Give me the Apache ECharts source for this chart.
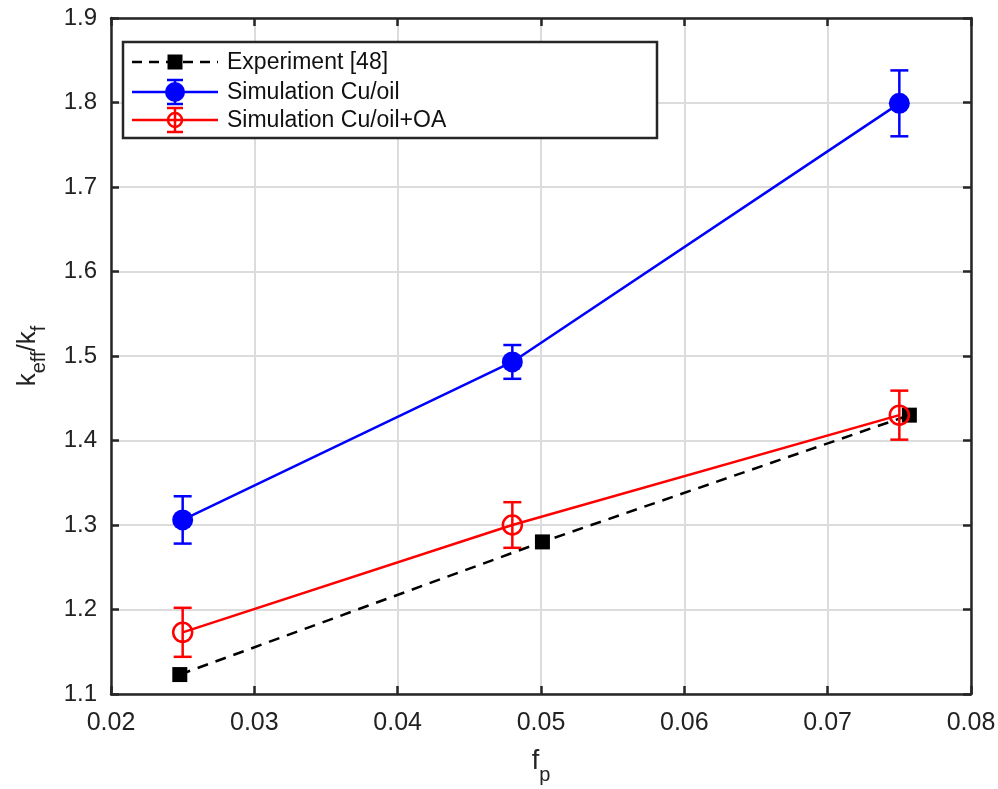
<!DOCTYPE html>
<html>
<head>
<meta charset="utf-8">
<script src="https://cdn.jsdelivr.net/npm/echarts@6/dist/echarts.min.js"></script>
<style>
  html, body { margin: 0; padding: 0; background: #fff; }
  #chart { width: 998px; height: 789px; }
</style>
</head>
<body>
<div id="chart"></div>
<script>
// Volume fraction of particles and effective conductivity ratio
const xTicks = [0.02, 0.03, 0.04, 0.05, 0.06, 0.07, 0.08];
const yTicks = [1.1, 1.2, 1.3, 1.4, 1.5, 1.6, 1.7, 1.8, 1.9];

const expX = [0.0248, 0.0501, 0.0757];
const expY = [1.123, 1.280, 1.430];

const simX = [0.025, 0.048, 0.075];
const cuY = [1.306, 1.493, 1.799];
const cuErr = [0.028, 0.020, 0.039];
const oaY = [1.173, 1.300, 1.430];
const oaErr = [0.029, 0.027, 0.029];

const legendNames = ['Experiment [48]', 'Simulation Cu/oil', 'Simulation Cu/oil+OA'];

const BLUE = '#0000ff';
const RED = '#ff0000';
const FONT = 'Liberation Sans, Arial, Helvetica, sans-serif';

const chart = echarts.init(document.getElementById('chart'), null, { renderer: 'canvas' });

function pairs(xs, ys) { return xs.map((x, i) => [x, ys[i]]); }
function errData(xs, ys, es) { return xs.map((x, i) => [x, ys[i] - es[i], ys[i] + es[i]]); }

function errorBarRenderer(color) {
  return function (params, api) {
    const x = api.value(0);
    const lo = api.coord([x, api.value(1)]);
    const hi = api.coord([x, api.value(2)]);
    const half = 9;
    const style = { stroke: color, lineWidth: 2.5, fill: null };
    return {
      type: 'group',
      children: [
        { type: 'line', shape: { x1: lo[0], y1: lo[1], x2: hi[0], y2: hi[1] }, style },
        { type: 'line', shape: { x1: lo[0] - half, y1: lo[1], x2: lo[0] + half, y2: lo[1] }, style },
        { type: 'line', shape: { x1: hi[0] - half, y1: hi[1], x2: hi[0] + half, y2: hi[1] }, style }
      ]
    };
  };
}

// Legend box drawn as graphic elements
const LX = 123, LY = 42, LW = 534, LH = 96;
const rowY = [62, 92, 120];
const sampleX1 = 132, sampleX2 = 218, markX = 175, textX = 227;
const legendGraphics = [
  { type: 'rect', shape: { x: LX, y: LY, width: LW, height: LH },
    style: { fill: '#fff', stroke: '#262626', lineWidth: 2.5 }, z: 100 },
  // experiment sample: dashed line + square
  { type: 'line', shape: { x1: sampleX1, y1: rowY[0], x2: sampleX2, y2: rowY[0] },
    style: { stroke: '#000', lineWidth: 2.5, lineDash: [10, 7] }, z: 101 },
  { type: 'rect', shape: { x: markX - 7.5, y: rowY[0] - 7.5, width: 15, height: 15 },
    style: { fill: '#000' }, z: 102 },
  // Cu/oil sample
  { type: 'line', shape: { x1: sampleX1, y1: rowY[1], x2: sampleX2, y2: rowY[1] },
    style: { stroke: BLUE, lineWidth: 2.5 }, z: 101 },
  { type: 'line', shape: { x1: markX, y1: rowY[1] - 12, x2: markX, y2: rowY[1] + 12 },
    style: { stroke: BLUE, lineWidth: 2.5 }, z: 101 },
  { type: 'line', shape: { x1: markX - 8, y1: rowY[1] - 12, x2: markX + 8, y2: rowY[1] - 12 },
    style: { stroke: BLUE, lineWidth: 2.5 }, z: 101 },
  { type: 'line', shape: { x1: markX - 8, y1: rowY[1] + 12, x2: markX + 8, y2: rowY[1] + 12 },
    style: { stroke: BLUE, lineWidth: 2.5 }, z: 101 },
  { type: 'circle', shape: { cx: markX, cy: rowY[1], r: 10 }, style: { fill: BLUE }, z: 102 },
  // Cu/oil+OA sample
  { type: 'line', shape: { x1: sampleX1, y1: rowY[2], x2: sampleX2, y2: rowY[2] },
    style: { stroke: RED, lineWidth: 2.5 }, z: 101 },
  { type: 'line', shape: { x1: markX, y1: rowY[2] - 12, x2: markX, y2: rowY[2] + 12 },
    style: { stroke: RED, lineWidth: 2.5 }, z: 101 },
  { type: 'line', shape: { x1: markX - 8, y1: rowY[2] - 12, x2: markX + 8, y2: rowY[2] - 12 },
    style: { stroke: RED, lineWidth: 2.5 }, z: 101 },
  { type: 'line', shape: { x1: markX - 8, y1: rowY[2] + 12, x2: markX + 8, y2: rowY[2] + 12 },
    style: { stroke: RED, lineWidth: 2.5 }, z: 101 },
  { type: 'circle', shape: { cx: markX, cy: rowY[2], r: 7 }, style: { fill: null, stroke: RED, lineWidth: 2.5 }, z: 102 }
];
legendNames.forEach((name, i) => {
  legendGraphics.push({
    type: 'text', x: textX, y: rowY[i] + 1, z: 102,
    style: { text: name, font: '23px ' + FONT, fill: '#111', textVerticalAlign: 'middle' }
  });
});

const axisLineStyle = { color: '#262626', width: 2.5 };
const tickStyle = { show: true, inside: true, length: 8, lineStyle: { color: '#262626', width: 2.5 } };

const option = {
  backgroundColor: '#fff',
  animation: false,
  grid: { left: 111, top: 18, right: 27, bottom: 95, containLabel: false, outerBoundsMode: 'none' },
  xAxis: [
    {
      type: 'value', min: xTicks[0], max: xTicks[xTicks.length - 1], interval: 0.01,
      axisLine: { show: true, onZero: false, lineStyle: axisLineStyle },
      axisTick: tickStyle,
      axisLabel: { fontFamily: FONT, fontSize: 25, color: '#222', margin: 17,
        formatter: v => v.toFixed(2) },
      splitLine: { show: true, lineStyle: { color: '#dcdcdc', width: 2 } },
      name: '{k|f}{sub|p}', nameLocation: 'middle', nameGap: 54,
      nameTextStyle: {
        rich: {
          k: { fontFamily: FONT, fontSize: 27, color: '#222', lineHeight: 27, verticalAlign: 'top' },
          sub: { fontFamily: FONT, fontSize: 20, color: '#222', lineHeight: 20, padding: [17, 0, 0, 0], verticalAlign: 'top' }
        }
      }
    },
    {
      type: 'value', position: 'top', min: xTicks[0], max: xTicks[xTicks.length - 1], interval: 0.01,
      axisLine: { show: true, onZero: false, lineStyle: axisLineStyle },
      axisTick: tickStyle, axisLabel: { show: false }, splitLine: { show: false }
    }
  ],
  yAxis: [
    {
      type: 'value', min: yTicks[0], max: yTicks[yTicks.length - 1], interval: 0.1,
      axisLine: { show: true, onZero: false, lineStyle: axisLineStyle },
      axisTick: tickStyle,
      axisLabel: { fontFamily: FONT, fontSize: 24, color: '#222', margin: 14,
        formatter: v => v.toFixed(1) },
      splitLine: { show: true, lineStyle: { color: '#dcdcdc', width: 2 } },
      name: '{k|k}{sub|eff}{k|/k}{sub|f}', nameLocation: 'middle', nameGap: 70, nameRotate: 90,
      nameTextStyle: {
        rich: {
          k: { fontFamily: FONT, fontSize: 26, color: '#222', lineHeight: 26, verticalAlign: 'top' },
          sub: { fontFamily: FONT, fontSize: 20, color: '#222', lineHeight: 20, padding: [14, 0, 0, 0], verticalAlign: 'top' }
        }
      }
    },
    {
      type: 'value', position: 'right', min: yTicks[0], max: yTicks[yTicks.length - 1], interval: 0.1,
      axisLine: { show: true, onZero: false, lineStyle: axisLineStyle },
      axisTick: tickStyle, axisLabel: { show: false }, splitLine: { show: false }
    }
  ],
  series: [
    {
      name: legendNames[0], type: 'line', data: pairs(expX, expY),
      symbol: 'rect', symbolSize: 15, showSymbol: true,
      lineStyle: { color: '#000', width: 2.5, type: [11, 8] },
      itemStyle: { color: '#000' }, z: 3
    },
    {
      name: legendNames[2], type: 'line', data: pairs(simX, oaY),
      symbol: 'circle', symbolSize: 19,
      lineStyle: { color: RED, width: 2.5 },
      itemStyle: { color: 'rgba(0,0,0,0)', borderColor: RED, borderWidth: 2.5 }, z: 4
    },
    {
      type: 'custom', data: errData(simX, oaY, oaErr),
      renderItem: errorBarRenderer(RED), z: 4, silent: true
    },
    {
      name: legendNames[1], type: 'line', data: pairs(simX, cuY),
      symbol: 'circle', symbolSize: 21,
      lineStyle: { color: BLUE, width: 2.5 },
      itemStyle: { color: BLUE, borderWidth: 0 }, z: 6
    },
    {
      type: 'custom', data: errData(simX, cuY, cuErr),
      renderItem: errorBarRenderer(BLUE), z: 5, silent: true
    }
  ],
  graphic: legendGraphics
};

chart.setOption(option);
</script>
</body>
</html>
